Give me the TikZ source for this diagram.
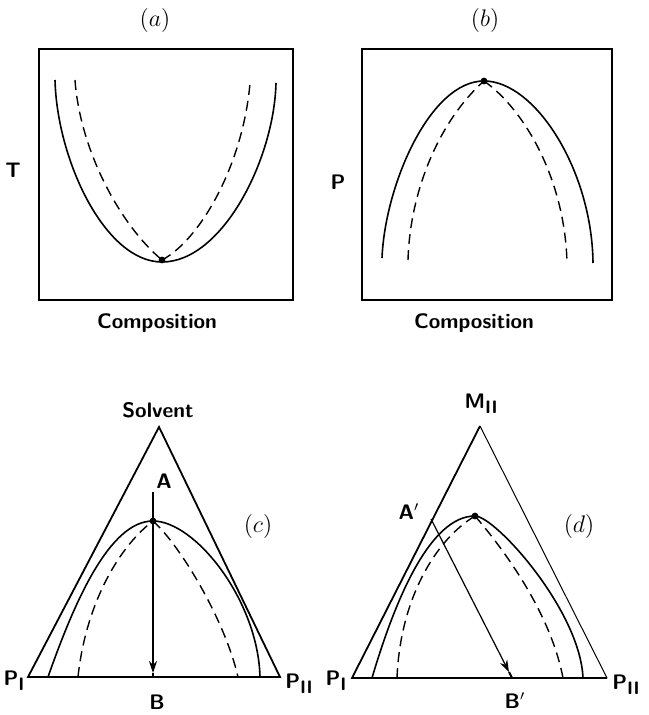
\documentclass[tikz,border=0pt]{standalone}
\usetikzlibrary{arrows.meta}
\begin{document}
\begin{tikzpicture}[x=0.5pt,y=-0.5pt,
  frame/.style={line width=1pt},
  solid curve/.style={line width=0.8pt},
  dash curve/.style={line width=0.7pt,dash pattern=on 5pt off 3pt},
  tri/.style={line width=0.9pt,line join=miter},
  lbl/.style={font=\fontsize{10.5}{12}\selectfont\sffamily\bfseries,inner sep=1pt},
  captext/.style={font=\fontsize{12}{14}\selectfont,inner sep=1pt},
  dotmark/.style={circle,fill,inner sep=0pt,minimum size=3.4pt},
  arr/.style={line width=0.8pt,-{Stealth[length=6pt,width=4pt]}}]
\useasboundingbox (0,0) rectangle (648,715);

% ---------- (a)
\node[captext] (capa) at (155,21) {$(a)$};
\draw[frame] (39,49) rectangle (293,300);
\node[lbl] (Ta) at (13,170) {T};
\node[lbl] (compa) at (157,323) {Composition};
\coordinate (dota) at (162,260);
\draw[solid curve] (55,80) .. controls (57,160) and (105,262) .. (162,262)
                           .. controls (222,262) and (274,160) .. (276,83);
\draw[dash curve] (75,80) .. controls (80,150) and (120,225) .. (dota);
\draw[dash curve] (dota) .. controls (200,240) and (243,165) .. (250,83);
\node[dotmark] at (dota) {};

% ---------- (b)
\node[captext] (capb) at (485,21) {$(b)$};
\draw[frame] (362,49) rectangle (612,300);
\node[lbl] (Pb) at (338,182) {P};
\node[lbl] (compb) at (474,323) {Composition};
\coordinate (dotb) at (484,81);
\draw[solid curve] (382,258) .. controls (385,185) and (430,81) .. (dotb)
                            .. controls (535,81) and (592,170) .. (593,263);
\draw[dash curve] (408,260) .. controls (410,190) and (440,120) .. (dotb);
\draw[dash curve] (dotb) .. controls (525,110) and (565,180) .. (567,263);
\node[dotmark] at (dotb) {};

% ---------- (c)
\coordinate (cT) at (159,427);
\coordinate (cL) at (28,677);
\coordinate (cR) at (280,677);
\draw[tri] (cL) -- (cT) -- (cR) -- cycle;
\node[lbl] (solv) at (158,410) {Solvent};
\node[lbl] (A) at (164,481) {A};
\node[lbl] (B) at (157,702) {B};
\node[lbl] (PIc) at (14,681) {P\raisebox{-0.55ex}{\small I}};
\node[lbl] (PIIc) at (299,684) {P\raisebox{-0.55ex}{\small II}};
\node[captext] (capc) at (258,526) {$(c)$};
\coordinate (dotc) at (153,521);
\draw[solid curve] (48,677) .. controls (75,600) and (110,521) .. (dotc)
                           .. controls (195,521) and (258,600) .. (260,677);
\draw[dash curve] (78,677) .. controls (85,610) and (115,550) .. (dotc);
\draw[dash curve] (dotc) .. controls (180,545) and (225,620) .. (238,677);
\node[dotmark] at (dotc) {};
\coordinate (ctop) at (153,492);
\coordinate (ctip) at (153,673);
\coordinate (cbot) at (153,677);
\draw[arr] (ctop) -- (ctip);
\draw[line width=1.2pt] (ctip) -- (cbot);

% ---------- (d)
\coordinate (dT) at (480,426);
\coordinate (dL) at (352,678);
\coordinate (dR) at (607,678);
\draw[tri] (dR) -- (dL) -- (dT);
\draw[line width=0.5pt] (dT) -- (dR);
\node[lbl] (M) at (481,404) {M\raisebox{-0.55ex}{\small II}};
\node[lbl] (Ap) at (409,512) {A$'$};
\node[lbl] (Bp) at (515,701) {B$'$};
\node[lbl] (PId) at (336,681) {P\raisebox{-0.55ex}{\small I}};
\node[lbl] (PIId) at (626,685) {P\raisebox{-0.55ex}{\small II}};
\node[captext] (capd) at (579,526) {$(d)$};
\coordinate (dotd) at (475,516);
\draw[solid curve] (372,678) .. controls (395,600) and (430,516) .. (dotd)
                            .. controls (495,516) and (580,610) .. (583,678);
\draw[dash curve] (397,678) .. controls (400,600) and (435,540) .. (dotd);
\draw[dash curve] (dotd) .. controls (500,545) and (550,610) .. (563,678);
\node[dotmark] at (dotd) {};
\coordinate (dtop) at (431,519);
\coordinate (dtip) at (509,672);
\coordinate (dbot) at (512,678);
\draw[arr,line width=0.6pt] (dtop) -- (dtip);
\draw[line width=1pt] (dtip) -- (dbot);
\end{tikzpicture}
\end{document}
